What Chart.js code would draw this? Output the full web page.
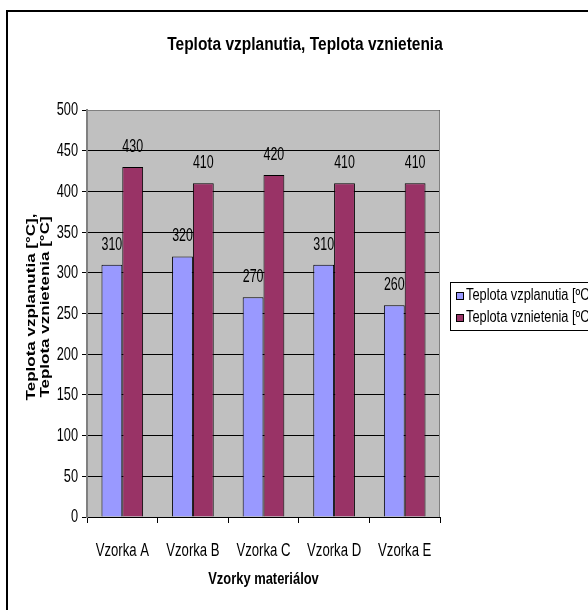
<!DOCTYPE html>
<html>
<head>
<meta charset="utf-8">
<script src="https://cdn.jsdelivr.net/npm/chart.js@4/dist/chart.umd.min.js"></script>
<style>
  html, body { margin: 0; padding: 0; background: #fff; }
  canvas { display: block; }
</style>
</head>
<body>
<canvas id="graf" width="588" height="610"></canvas>
<script>
// data
const vzorky = ['Vzorka A', 'Vzorka B', 'Vzorka C', 'Vzorka D', 'Vzorka E'];
const vzplanutie = [310, 320, 270, 310, 260];
const vznietenie = [430, 410, 420, 410, 410];
const nazvySerii = ['Teplota vzplanutia [ºC]', 'Teplota vznietenia [ºC]'];
const nadpis = 'Teplota vzplanutia, Teplota vznietenia';
const nadpisX = 'Vzorky materiálov';
const nadpisY = ['Teplota vzplanutia [°C],', 'Teplota vznietenia [°C]'];

const pismo = '"Liberation Sans", Arial, sans-serif';

// the original picture is squeezed sideways, so the text is drawn narrower
function uzkyText(ctx, text, x, y, sx, align) {
    ctx.save();
    ctx.translate(x, y);
    ctx.scale(sx, 1);
    ctx.textAlign = align;
    ctx.fillText(text, 0, 0);
    ctx.restore();
}

// background, frame, texts, labels and the legend
const kreslenie = {
    id: 'kreslenie',
    beforeDraw(chart) {
        const ctx = chart.ctx;
        const a = chart.chartArea;
        ctx.save();
        ctx.fillStyle = '#C0C0C0';
        ctx.fillRect(a.left, a.top, a.right - a.left, a.bottom - a.top);
        ctx.restore();
    },
    afterDatasetsDraw(chart) {
        const ctx = chart.ctx;
        const a = chart.chartArea;
        const sx = chart.scales.x;
        const sy = chart.scales.y;
        ctx.save();
        // gray border of plot area (top, right)
        ctx.strokeStyle = '#808080';
        ctx.lineWidth = 1;
        ctx.beginPath();
        ctx.moveTo(a.left, a.top + 0.5);
        ctx.lineTo(a.right - 0.5, a.top + 0.5);
        ctx.lineTo(a.right - 0.5, a.bottom);
        ctx.stroke();

        ctx.fillStyle = '#000';
        ctx.textBaseline = 'middle';

        // tick labels
        ctx.font = '18px ' + pismo;
        sy.ticks.forEach((t, i) => {
            uzkyText(ctx, String(t.value), 78, sy.getPixelForTick(i) + 0.5, 0.71, 'right');
        });
        sx.ticks.forEach((t, i) => {
            uzkyText(ctx, chart.data.labels[i], sx.getPixelForTick(i), 551, 0.73, 'center');
        });

        // values above the bars
        chart.data.datasets.forEach((ds, i) => {
            chart.getDatasetMeta(i).data.forEach((el, j) => {
                uzkyText(ctx, String(ds.data[j]), el.x, el.y - 20, 0.69, 'center');
            });
        });

        // outer frame (only left and top are inside the picture)
        ctx.strokeStyle = '#000';
        ctx.lineWidth = 2;
        ctx.strokeRect(7, 11, 700, 700);

        // chart title
        ctx.font = 'bold 18px ' + pismo;
        uzkyText(ctx, nadpis, 305, 45, 0.86, 'center');

        // x axis title
        ctx.font = 'bold 17px ' + pismo;
        uzkyText(ctx, nadpisX, (a.left + a.right) / 2, 579, 0.76, 'center');

        // y axis title
        ctx.save();
        ctx.translate(0, 307);
        ctx.scale(0.78, 1);
        ctx.rotate(-Math.PI / 2);
        ctx.font = 'bold 17px ' + pismo;
        ctx.textAlign = 'center';
        ctx.fillText(nadpisY[0], 0, 31 / 0.78);
        ctx.fillText(nadpisY[1], 0, 45 / 0.78);
        ctx.restore();

        // legend
        ctx.strokeStyle = '#000';
        ctx.lineWidth = 1;
        ctx.strokeRect(450.5, 282.5, 200, 48);
        ctx.font = '16px ' + pismo;
        chart.data.datasets.forEach((ds, i) => {
            const y = 296 + i * 22;
            ctx.fillStyle = ds.backgroundColor;
            ctx.fillRect(456.5, y - 3.5, 7, 7);
            ctx.strokeRect(456.5, y - 3.5, 7, 7);
            ctx.fillStyle = '#000';
            uzkyText(ctx, ds.label, 466, y, 0.8, 'left');
        });
        ctx.restore();
    }
};

const config = {
    type: 'bar',
    data: {
        labels: vzorky,
        datasets: [{
            label: nazvySerii[0],
            data: vzplanutie,
            backgroundColor: '#9999FF',
            borderColor: '#000',
            borderWidth: 1
        }, {
            label: nazvySerii[1],
            data: vznietenie,
            backgroundColor: '#993366',
            borderColor: '#000',
            borderWidth: 1
        }]
    },
    options: {
        responsive: false,
        animation: false,
        events: [],
        categoryPercentage: 0.59,
        barPercentage: 1,
        layout: { padding: { left: 0, top: 110, right: 148, bottom: 0 } },
        plugins: {
            legend: { display: false },
            title: { display: false },
            tooltip: { enabled: false }
        },
        scales: {
            x: {
                afterFit(scale) { scale.height = 93; },
                grid: {
                    offset: true,
                    drawOnChartArea: false,
                    drawTicks: true,
                    tickLength: 6,
                    tickColor: '#000'
                },
                border: { color: '#000', width: 1 },
                ticks: { display: false, autoSkip: false, maxRotation: 0 }
            },
            y: {
                min: 0,
                max: 500,
                afterFit(scale) { scale.width = 87; },
                grid: {
                    color: '#000',
                    tickColor: '#000',
                    tickLength: 5
                },
                border: { color: '#808080', width: 2 },
                ticks: { display: false, stepSize: 50 }
            }
        }
    },
    plugins: [kreslenie]
};

window.addEventListener('load', () => {
    new Chart(document.getElementById('graf').getContext('2d'), config);
});
</script>
</body>
</html>
